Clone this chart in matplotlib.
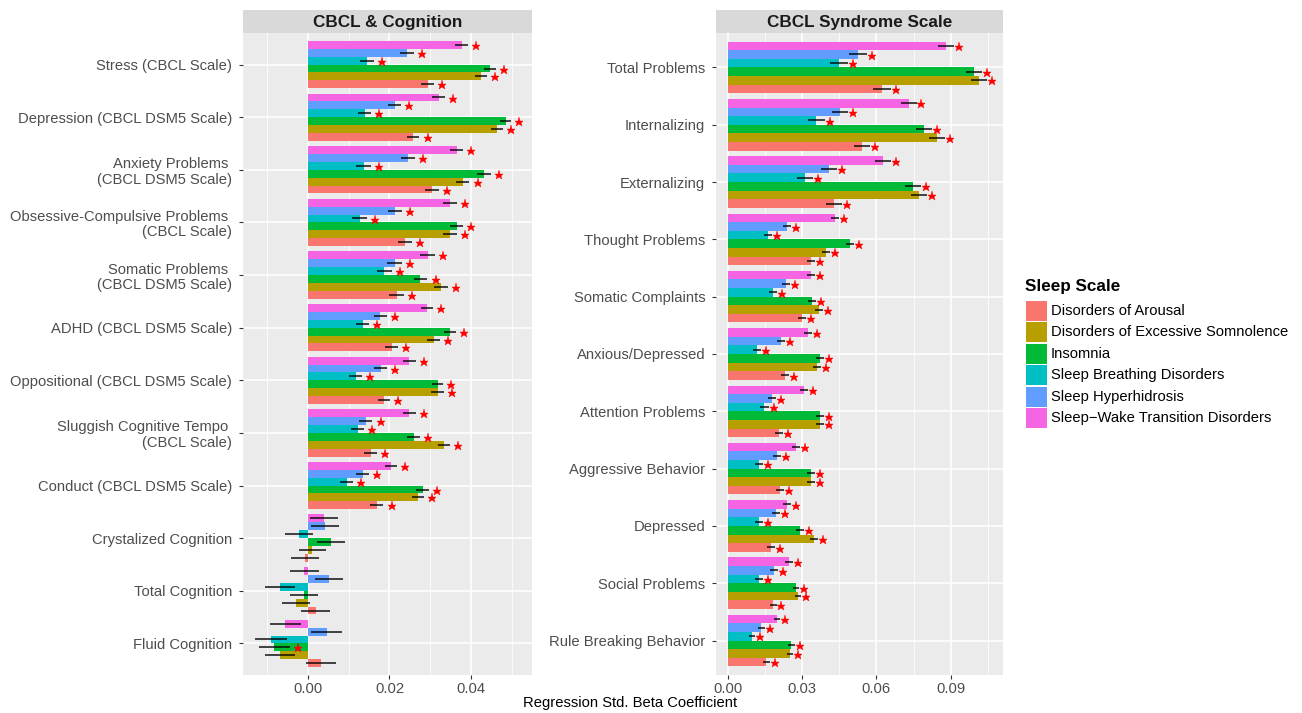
import numpy as np
import matplotlib
matplotlib.use("Agg")
import matplotlib.pyplot as plt
from matplotlib.patches import Rectangle
from matplotlib.ticker import FixedLocator

plt.rcParams['font.family'] = ['Liberation Sans', 'DejaVu Sans']

# ---------------- data ----------------
series_names = ["Disorders of Arousal", "Disorders of Excessive Somnolence", "Insomnia",
                "Sleep Breathing Disorders", "Sleep Hyperhidrosis",
                "Sleep\u2212Wake Transition Disorders"]
series_colors = ["#F8766D", "#B79F00", "#00BA38", "#00BFC4", "#619CFF", "#F564E3"]

left_categories = ["Stress (CBCL Scale)", "Depression (CBCL DSM5 Scale)",
                   "Anxiety Problems \n(CBCL DSM5 Scale)",
                   "Obsessive-Compulsive Problems \n(CBCL Scale)",
                   "Somatic Problems \n(CBCL DSM5 Scale)", "ADHD (CBCL DSM5 Scale)",
                   "Oppositional (CBCL DSM5 Scale)",
                   "Sluggish Cognitive Tempo \n(CBCL Scale)", "Conduct (CBCL DSM5 Scale)",
                   "Crystalized Cognition", "Total Cognition", "Fluid Cognition"]

arousal_L       = [0.0294, 0.0258, 0.0304, 0.0237, 0.0218, 0.0205, 0.0186, 0.0154, 0.0169, -0.0007, 0.0019, 0.0031]
somnolence_L    = [0.0424, 0.0463, 0.0380, 0.0348, 0.0326, 0.0308, 0.0318, 0.0333, 0.0269, 0.0011, -0.0029, -0.0069]
insomnia_L      = [0.0446, 0.0485, 0.0431, 0.0365, 0.0276, 0.0348, 0.0318, 0.0259, 0.0281, 0.0056, -0.0010, -0.0083]
breathing_L     = [0.0144, 0.0139, 0.0137, 0.0127, 0.0187, 0.0134, 0.0117, 0.0122, 0.0095, -0.0022, -0.0069, -0.0091]
hyperhidrosis_L = [0.0242, 0.0213, 0.0245, 0.0213, 0.0213, 0.0177, 0.0178, 0.0142, 0.0134, 0.0042, 0.0051, 0.0046]
transition_L    = [0.0377, 0.0321, 0.0365, 0.0348, 0.0294, 0.0292, 0.0249, 0.0249, 0.0203, 0.0039, -0.0009, -0.0056]

se_arousal_L       = [0.0016, 0.00155, 0.0017, 0.0017, 0.0018, 0.0016, 0.0015, 0.0016, 0.0016, 0.0034, 0.0035, 0.0037]
se_somnolence_L    = [0.0015, 0.0015, 0.0016, 0.0017, 0.0018, 0.0015, 0.0015, 0.0015, 0.0015, 0.0034, 0.0035, 0.0037]
se_insomnia_L      = [0.0015, 0.00135, 0.0017, 0.0016, 0.0017, 0.0015, 0.0014, 0.0016, 0.0015, 0.0034, 0.0035, 0.0038]
se_breathing_L     = [0.0017, 0.0016, 0.0018, 0.0018, 0.0018, 0.0016, 0.0016, 0.0016, 0.0016, 0.0034, 0.0036, 0.0039]
se_hyperhidrosis_L = [0.0017, 0.0016, 0.0017, 0.0017, 0.0018, 0.0016, 0.0015, 0.0016, 0.0016, 0.0034, 0.0035, 0.0038]
se_transition_L    = [0.00155, 0.00155, 0.0016, 0.0017, 0.0018, 0.0015, 0.0015, 0.0015, 0.0015, 0.0034, 0.0035, 0.0038]

sig_arousal_L       = [1, 1, 1, 1, 1, 1, 1, 1, 1, 0, 0, 0]
sig_somnolence_L    = [1, 1, 1, 1, 1, 1, 1, 1, 1, 0, 0, 0]
sig_insomnia_L      = [1, 1, 1, 1, 1, 1, 1, 1, 1, 0, 0, 1]
sig_breathing_L     = [1, 1, 1, 1, 1, 1, 1, 1, 1, 0, 0, 0]
sig_hyperhidrosis_L = [1, 1, 1, 1, 1, 1, 1, 1, 1, 0, 0, 0]
sig_transition_L    = [1, 1, 1, 1, 1, 1, 1, 1, 1, 0, 0, 0]

right_categories = ["Total Problems", "Internalizing", "Externalizing", "Thought Problems",
                    "Somatic Complaints", "Anxious/Depressed", "Attention Problems",
                    "Aggressive Behavior", "Depressed", "Social Problems",
                    "Rule Breaking Behavior"]

arousal_R       = [0.0623, 0.0542, 0.0429, 0.0336, 0.0300, 0.0231, 0.0207, 0.0211, 0.0175, 0.0183, 0.0155]
somnolence_R    = [0.1014, 0.0845, 0.0772, 0.0397, 0.0369, 0.0361, 0.0373, 0.0336, 0.0348, 0.0284, 0.0252]
insomnia_R      = [0.0994, 0.0792, 0.0748, 0.0494, 0.0340, 0.0373, 0.0373, 0.0336, 0.0292, 0.0276, 0.0256]
breathing_R     = [0.0449, 0.0357, 0.0312, 0.0163, 0.0183, 0.0118, 0.0147, 0.0126, 0.0126, 0.0126, 0.0098]
hyperhidrosis_R = [0.0526, 0.0453, 0.0409, 0.0239, 0.0235, 0.0215, 0.0179, 0.0199, 0.0195, 0.0187, 0.0135]
transition_R    = [0.0881, 0.0731, 0.0627, 0.0433, 0.0336, 0.0324, 0.0308, 0.0276, 0.0239, 0.0248, 0.0199]

se_arousal_R       = [0.0036, 0.0032, 0.0034, 0.0015, 0.0016, 0.0017, 0.0017, 0.0016, 0.0015, 0.0014, 0.0014]
se_somnolence_R    = [0.0034, 0.0031, 0.0032, 0.0015, 0.0015, 0.0017, 0.0016, 0.0015, 0.0015, 0.0013, 0.0013]
se_insomnia_R      = [0.0034, 0.0031, 0.0032, 0.0015, 0.0017, 0.0016, 0.0016, 0.0015, 0.0015, 0.0013, 0.0014]
se_breathing_R     = [0.0036, 0.0034, 0.0034, 0.0017, 0.0017, 0.0017, 0.0018, 0.0017, 0.0016, 0.0015, 0.0014]
se_hyperhidrosis_R = [0.0036, 0.0033, 0.0034, 0.0017, 0.0017, 0.0017, 0.0017, 0.0015, 0.0016, 0.0015, 0.0014]
se_transition_R    = [0.0034, 0.0031, 0.0032, 0.0015, 0.0016, 0.0017, 0.0016, 0.0015, 0.0016, 0.0015, 0.0014]

sig_R = [1] * 11

x_label = "Regression Std. Beta Coefficient"
left_title = "CBCL & Cognition"
right_title = "CBCL Syndrome Scale"
legend_title = "Sleep Scale"

# ---------------- drawing ----------------
W, H = 1302, 713
fig = plt.figure(figsize=(W / 100, H / 100), dpi=100)

TXT = 10.6
BAR_H = 0.15
offsets = [-0.375, -0.225, -0.075, 0.075, 0.225, 0.375]


def draw_panel(ax, cats, vals, ses, sigs, xlim, major, minor, fmt):
    n = len(cats)
    ypos = np.arange(n)[::-1]
    ax.set_facecolor("#EBEBEB")
    for k in range(6):
        yy = ypos + offsets[k]
        v = np.array(vals[k])
        s = np.array(ses[k])
        ax.barh(yy, v, height=BAR_H, color=series_colors[k], zorder=3, linewidth=0)
        ax.hlines(yy, v - s, v + s, color="black", linewidth=1.2, alpha=0.85, zorder=4)
        sg = np.array(sigs[k], dtype=bool)
        ax.plot((v + s + 0.002)[sg], yy[sg] - 0.02, linestyle="none", marker="*",
                color="red", markersize=6.5, markeredgewidth=0.3, zorder=5)
    ax.set_ylim(-0.6, n - 0.4)
    ax.set_xlim(*xlim)
    ax.set_yticks(ypos)
    ax.set_yticklabels(cats, linespacing=1.12)
    ax.xaxis.set_major_locator(FixedLocator(major))
    ax.xaxis.set_minor_locator(FixedLocator(minor))
    ax.set_xticklabels([fmt.format(m) for m in major])
    ax.grid(which="major", color="white", linewidth=1.1, zorder=0)
    ax.grid(which="minor", axis="x", color="white", linewidth=0.55, zorder=0)
    ax.set_axisbelow(True)
    for sp in ax.spines.values():
        sp.set_visible(False)
    ax.tick_params(axis="both", which="major", length=3, width=0.8, color="#333333",
                   labelcolor="#4D4D4D", labelsize=TXT)
    ax.tick_params(axis="y", which="major", pad=4.8)
    ax.tick_params(axis="x", which="major", pad=2.2)
    ax.tick_params(axis="both", which="minor", length=0)


axL = fig.add_axes([243 / W, 1 - 675 / H, 289 / W, 642 / H])
draw_panel(axL, left_categories,
           [arousal_L, somnolence_L, insomnia_L, breathing_L, hyperhidrosis_L, transition_L],
           [se_arousal_L, se_somnolence_L, se_insomnia_L, se_breathing_L, se_hyperhidrosis_L, se_transition_L],
           [sig_arousal_L, sig_somnolence_L, sig_insomnia_L, sig_breathing_L, sig_hyperhidrosis_L, sig_transition_L],
           (-0.01595, 0.05497), [0.0, 0.02, 0.04], [-0.01, 0.01, 0.03, 0.05], "{:.2f}")

axR = fig.add_axes([716 / W, 1 - 675 / H, 287 / W, 642 / H])
draw_panel(axR, right_categories,
           [arousal_R, somnolence_R, insomnia_R, breathing_R, hyperhidrosis_R, transition_R],
           [se_arousal_R, se_somnolence_R, se_insomnia_R, se_breathing_R, se_hyperhidrosis_R, se_transition_R],
           [sig_R] * 6,
           (-0.00472, 0.1111), [0.0, 0.03, 0.06, 0.09], [0.015, 0.045, 0.075, 0.105], "{:.2f}")

# facet strips
for x0, w, title in [(243, 289, left_title), (716, 287, right_title)]:
    sax = fig.add_axes([x0 / W, 1 - 33 / H, w / W, 23 / H])
    sax.set_facecolor("#D9D9D9")
    sax.set_xticks([])
    sax.set_yticks([])
    for sp in sax.spines.values():
        sp.set_visible(False)
    sax.text(0.5, 0.47, title, ha="center", va="center", fontsize=12.3, fontweight="bold",
             color="#1A1A1A", transform=sax.transAxes)

fig.text(630 / W, 1 - 703 / H, x_label, ha="center", va="center", fontsize=TXT, color="black")

# legend (drawn in figure pixel coordinates)
fig.text(1025 / W, 1 - 287 / H, legend_title, ha="left", va="center",
         fontsize=12.3, fontweight="bold", color="black")
row_h = 21.4
for i, (name, col) in enumerate(zip(series_names, series_colors)):
    yc = 311 + row_h * i
    fig.patches.append(Rectangle((1026 / W, 1 - (yc + row_h / 2 - 0.6) / H),
                                 20.5 / W, (row_h - 1.2) / H,
                                 transform=fig.transFigure, facecolor=col,
                                 edgecolor="none"))
    fig.text(1051 / W, 1 - yc / H, name, ha="left", va="center", fontsize=TXT,
             color="black")

fig.savefig("out.png", dpi=100)
